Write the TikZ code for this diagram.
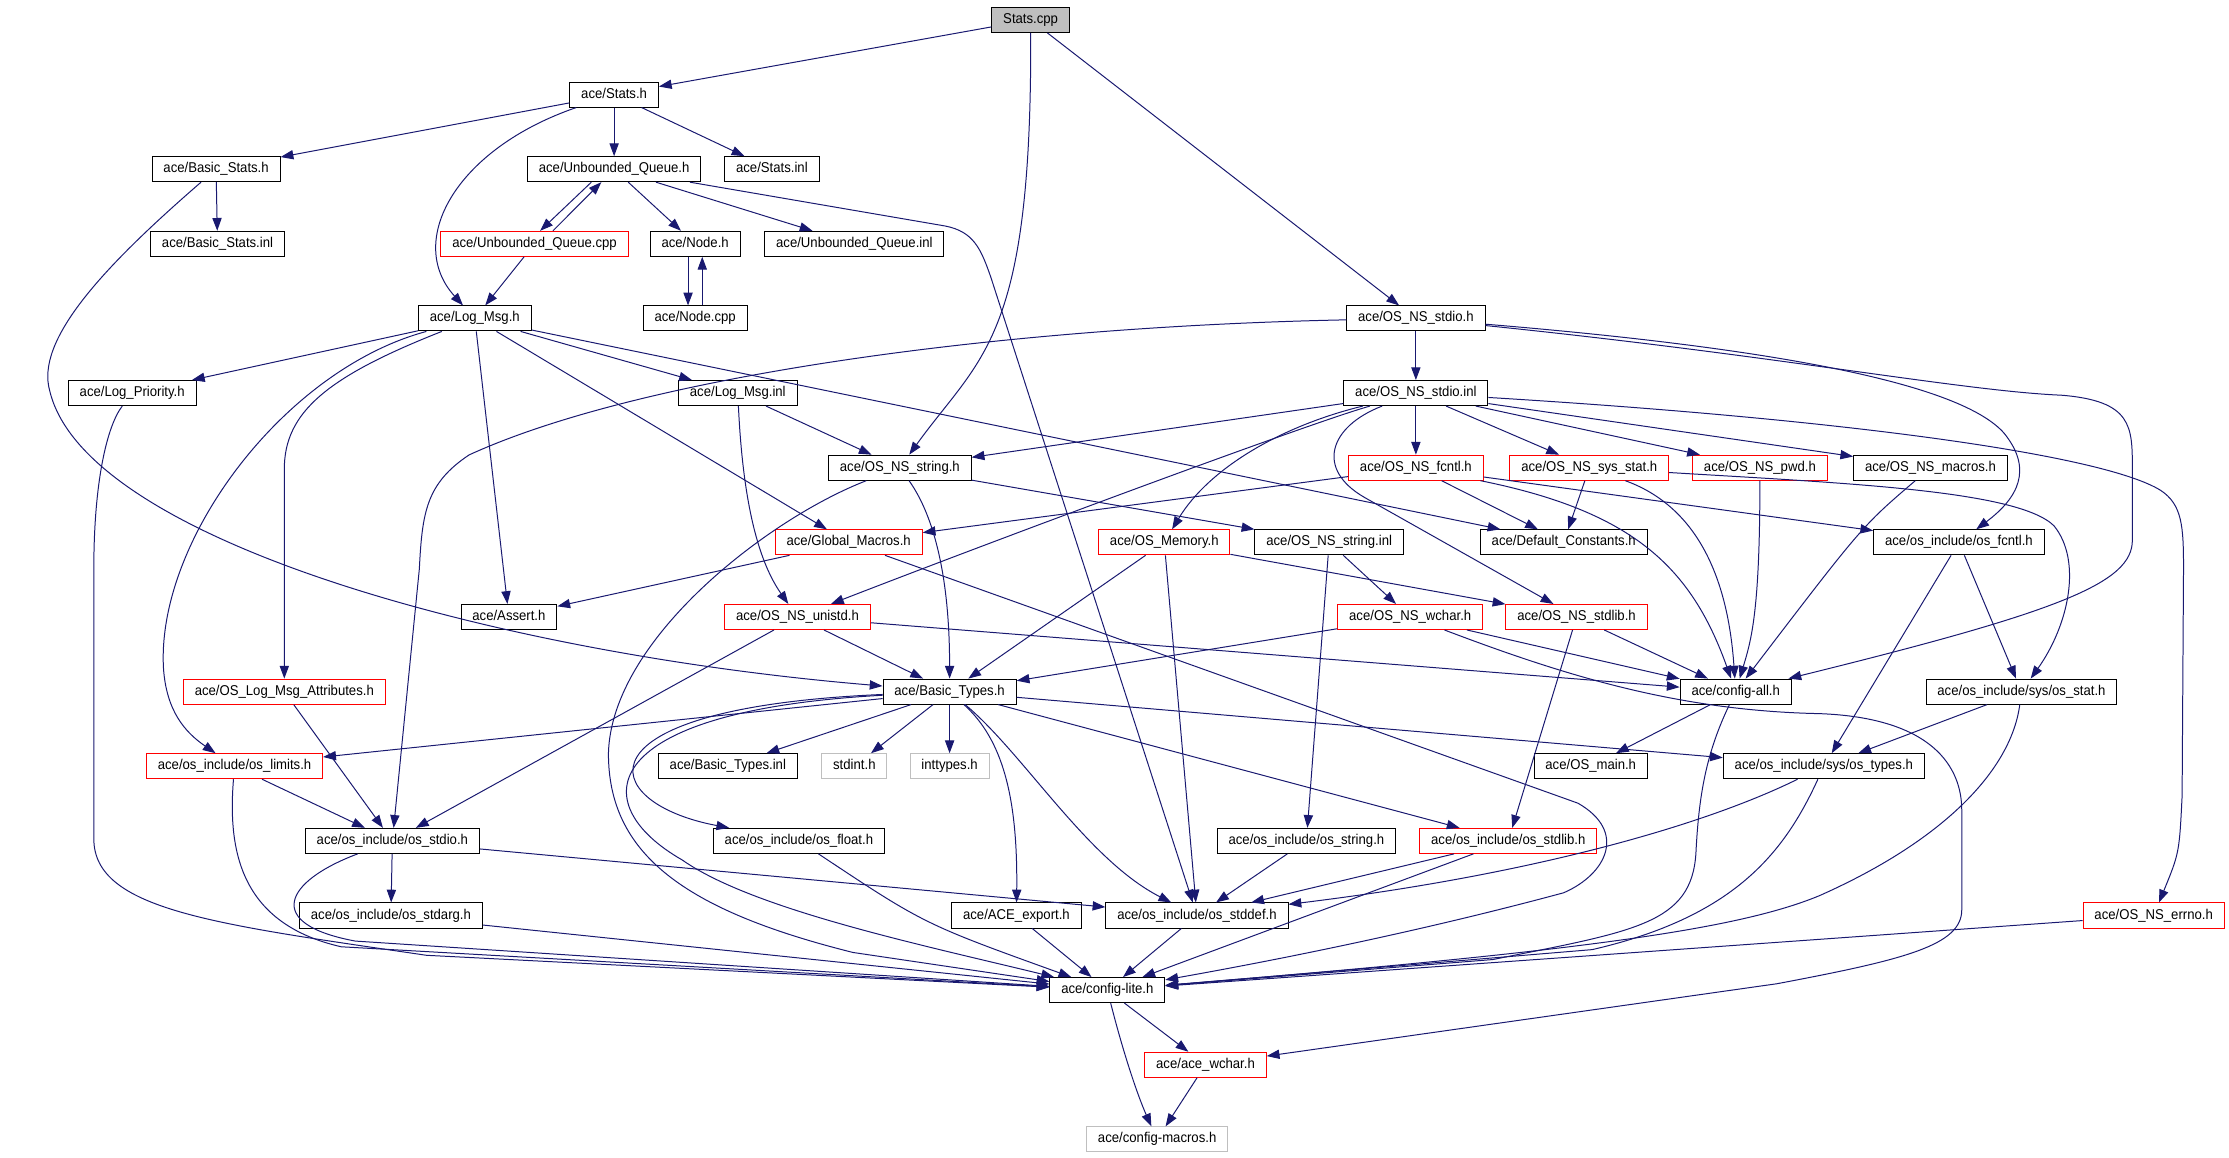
\documentclass[tikz,border=0pt]{standalone}
\usepackage{fontspec}
\setmainfont[FakeStretch=0.925]{Liberation Sans}
\usetikzlibrary{arrows.meta}
\definecolor{edgeblue}{HTML}{191970}
\definecolor{nodegrey}{HTML}{BFBFBF}
\tikzset{
    hdr/.style={draw=black, fill=white, line width=0.7pt, inner xsep=8pt, inner ysep=0pt,
        minimum height=17.6pt, text height=7.2pt, text depth=2.2pt, font=\fontsize{10}{12}\selectfont},
    hdrred/.style={hdr, draw=red},
    hdrgrey/.style={hdr, draw=nodegrey},
    hdrroot/.style={hdr, fill=nodegrey},
    incl/.style={draw=edgeblue, line width=0.7pt, -{Triangle[length=9pt,width=6.5pt]}},
}
\begin{document}
\begin{tikzpicture}[x=1pt,y=-1pt]
    \useasboundingbox (0,0) rectangle (1568,814);

    \node[hdrroot] (statscpp) at (725,14) {Stats.cpp};
    \node[hdr] (statsh) at (432,66.5) {ace/Stats.h};
    \node[hdr] (basicstatsh) at (152,119) {ace/Basic\_Stats.h};
    \node[hdr] (uqh) at (432,119) {ace/Unbounded\_Queue.h};
    \node[hdr] (statsinl) at (543,119) {ace/Stats.inl};
    \node[hdr] (basicstatsinl) at (153,171.5) {ace/Basic\_Stats.inl};
    \node[hdrred] (uqcpp) at (376,171.5) {ace/Unbounded\_Queue.cpp};
    \node[hdr] (nodeh) at (489,171.5) {ace/Node.h};
    \node[hdr] (uqinl) at (601,171.5) {ace/Unbounded\_Queue.inl};
    \node[hdr] (logmsgh) at (334,224) {ace/Log\_Msg.h};
    \node[hdr] (nodecpp) at (489,224) {ace/Node.cpp};
    \node[hdr] (osnsstdioh) at (996,224) {ace/OS\_NS\_stdio.h};
    \node[hdr] (logpriorityh) at (93,276.5) {ace/Log\_Priority.h};
    \node[hdr] (logmsginl) at (519,276.5) {ace/Log\_Msg.inl};
    \node[hdr] (osnsstdioinl) at (996,276.5) {ace/OS\_NS\_stdio.inl};
    \node[hdr] (osnsstringh) at (633,329) {ace/OS\_NS\_string.h};
    \node[hdrred] (osnsfcntlh) at (996,329) {ace/OS\_NS\_fcntl.h};
    \node[hdrred] (osnssysstath) at (1118,329) {ace/OS\_NS\_sys\_stat.h};
    \node[hdrred] (osnspwdh) at (1238,329) {ace/OS\_NS\_pwd.h};
    \node[hdr] (osnsmacrosh) at (1358,329) {ace/OS\_NS\_macros.h};
    \node[hdrred] (globalmacrosh) at (597,381.5) {ace/Global\_Macros.h};
    \node[hdrred] (osmemoryh) at (819,381.5) {ace/OS\_Memory.h};
    \node[hdr] (osnsstringinl) at (935,381.5) {ace/OS\_NS\_string.inl};
    \node[hdr] (defaultconstantsh) at (1100,381.5) {ace/Default\_Constants.h};
    \node[hdr] (osfcntlh) at (1378,381.5) {ace/os\_include/os\_fcntl.h};
    \node[hdr] (asserth) at (358,434) {ace/Assert.h};
    \node[hdrred] (osnsunistdh) at (561,434) {ace/OS\_NS\_unistd.h};
    \node[hdrred] (osnswcharh) at (992,434) {ace/OS\_NS\_wchar.h};
    \node[hdrred] (osnsstdlibh) at (1109,434) {ace/OS\_NS\_stdlib.h};
    \node[hdrred] (oslogmsgattrh) at (200,486.5) {ace/OS\_Log\_Msg\_Attributes.h};
    \node[hdr] (basictypesh) at (668,486.5) {ace/Basic\_Types.h};
    \node[hdr] (configallh) at (1221,486.5) {ace/config-all.h};
    \node[hdr] (osstath) at (1422,486.5) {ace/os\_include/sys/os\_stat.h};
    \node[hdrred] (oslimitsh) at (165,539) {ace/os\_include/os\_limits.h};
    \node[hdr] (basictypesinl) at (512,539) {ace/Basic\_Types.inl};
    \node[hdrgrey] (stdinth) at (601,539) {stdint.h};
    \node[hdrgrey] (inttypesh) at (668,539) {inttypes.h};
    \node[hdr] (osmainh) at (1119,539) {ace/OS\_main.h};
    \node[hdr] (ostypesh) at (1283,539) {ace/os\_include/sys/os\_types.h};
    \node[hdr] (osstdioh) at (276,591.5) {ace/os\_include/os\_stdio.h};
    \node[hdr] (osfloath) at (562,591.5) {ace/os\_include/os\_float.h};
    \node[hdr] (osstringh) at (919,591.5) {ace/os\_include/os\_string.h};
    \node[hdrred] (osstdlibh) at (1061,591.5) {ace/os\_include/os\_stdlib.h};
    \node[hdr] (osstdargh) at (275,644) {ace/os\_include/os\_stdarg.h};
    \node[hdr] (aceexporth) at (715,644) {ace/ACE\_export.h};
    \node[hdr] (osstddefh) at (842,644) {ace/os\_include/os\_stddef.h};
    \node[hdrred] (osnserrnoh) at (1515,644) {ace/OS\_NS\_errno.h};
    \node[hdr] (configliteh) at (779,696.5) {ace/config-lite.h};
    \node[hdrred] (acewcharh) at (848,749) {ace/ace\_wchar.h};
    \node[hdrgrey] (configmacrosh) at (814,801.5) {ace/config-macros.h};

    \draw[incl] (statscpp) -- (statsh);
    \draw[incl] (statscpp) .. controls (726,240) and (690,250) .. (osnsstringh);
    \draw[incl] (statscpp) -- (osnsstdioh);

    \draw[incl] (statsh) -- (basicstatsh);
    \draw[incl] (statsh) -- (uqh);
    \draw[incl] (statsh) -- (statsinl);
    \draw[incl] (statsh) .. controls (320,105) and (285,170) .. (logmsgh);

    \draw[incl] (basicstatsh) -- (basicstatsinl);
    \draw[incl] (basicstatsh) .. controls (70,190) and (25,240) .. (35,275) .. controls (60,380) and (350,460) .. (basictypesh);

    \draw[incl] ([xshift=-16pt]uqh.south) -- ([xshift=4pt]uqcpp.north);
    \draw[incl] ([xshift=13pt]uqcpp.north) -- ([xshift=-9pt]uqh.south);
    \draw[incl] (uqh) -- (nodeh);
    \draw[incl] (uqh) -- (uqinl);
    \draw[incl] (uqh) -- (665,159) .. controls (685,163) and (690,175) .. (697,195) -- (osstddefh);
    \draw[incl] (uqcpp) -- (logmsgh);
    \draw[incl] ([xshift=-5pt]nodeh.south) -- ([xshift=-5pt]nodecpp.north);
    \draw[incl] ([xshift=5pt]nodecpp.north) -- ([xshift=5pt]nodeh.south);

    \draw[incl] (logmsgh) -- (logpriorityh);
    \draw[incl] (logmsgh) .. controls (200,260) and (110,380) .. (115,470) .. controls (117,500) and (130,515) .. (oslimitsh);
    \draw[incl] (logmsgh) .. controls (230,265) and (200,290) .. (200,330) -- (oslogmsgattrh);
    \draw[incl] (logmsgh) -- (asserth);
    \draw[incl] (logmsgh) -- (globalmacrosh);
    \draw[incl] (logmsgh) -- (logmsginl);
    \draw[incl] (logmsgh) -- (defaultconstantsh);
    \draw[incl] (logpriorityh) .. controls (75,300) and (66,340) .. (66,400) -- (66,590) .. controls (66,640) and (150,650) .. (300,672) -- (configliteh);
    \draw[incl] (logmsginl) -- (osnsstringh);
    \draw[incl] (logmsginl) .. controls (522,340) and (530,390) .. (osnsunistdh);

    \draw[incl] (osnsstdioh) -- (osnsstdioinl);
    \draw[incl] (osnsstdioh) .. controls (700,230) and (450,265) .. (330,320) .. controls (300,340) and (297,360) .. (295,400) -- (osstdioh);
    \draw[incl] (osnsstdioh) .. controls (1250,250) and (1380,275) .. (1450,278) .. controls (1500,282) and (1500,300) .. (1500,330) -- (1500,380) .. controls (1500,410) and (1450,430) .. (configallh);
    \draw[incl] (osnsstdioh) .. controls (1250,245) and (1380,270) .. (1410,305) .. controls (1430,330) and (1420,350) .. (osfcntlh);

    \draw[incl] (osnsstdioinl) -- (osnsstringh);
    \draw[incl] (osnsstdioinl) .. controls (920,298) and (700,380) .. (osnsunistdh);
    \draw[incl] (osnsstdioinl) .. controls (900,300) and (850,330) .. (osmemoryh);
    \draw[incl] (osnsstdioinl) -- (osnsfcntlh);
    \draw[incl] (osnsstdioinl) .. controls (935,300) and (925,330) .. (960,350) -- (osnsstdlibh);
    \draw[incl] (osnsstdioinl) -- (osnssysstath);
    \draw[incl] (osnsstdioinl) -- (osnspwdh);
    \draw[incl] (osnsstdioinl) -- (osnsmacrosh);
    \draw[incl] (osnsstdioinl) .. controls (1300,295) and (1480,320) .. (1520,345) .. controls (1535,355) and (1536,370) .. (1536,400) -- (1535,560) .. controls (1533,600) .. (osnserrnoh);

    \draw[incl] (osnsstringh) .. controls (655,360) and (668,400) .. (basictypesh);
    \draw[incl] (osnsstringh) .. controls (540,365) and (430,450) .. (428,530) .. controls (428,600) and (480,640) .. (600,670) -- (configliteh);
    \draw[incl] (osnsstringh) -- (osnsstringinl);

    \draw[incl] (osnsfcntlh) -- (globalmacrosh);
    \draw[incl] (osnsfcntlh) -- (defaultconstantsh);
    \draw[incl] (osnsfcntlh) -- (osfcntlh);
    \draw[incl] (osnsfcntlh) .. controls (1150,360) and (1190,400) .. (configallh);
    \draw[incl] (osnssysstath) -- (defaultconstantsh);
    \draw[incl] (osnssysstath) .. controls (1190,355) and (1215,400) .. (configallh);
    \draw[incl] (osnssysstath) .. controls (1300,340) and (1420,345) .. (1445,370) .. controls (1465,395) and (1455,440) .. (osstath);
    \draw[incl] (osnspwdh) .. controls (1238,430) and (1232,450) .. (configallh);
    \draw[incl] (osnsmacrosh) .. controls (1310,370) .. (configallh);

    \draw[incl] (globalmacrosh) -- (asserth);
    \draw[incl] (globalmacrosh) -- (1110,565) .. controls (1145,585) and (1130,615) .. (1100,628) .. controls (1000,655) and (900,675) .. (configliteh);
    \draw[incl] (osmemoryh) -- (basictypesh);
    \draw[incl] (osmemoryh) -- (osstddefh);
    \draw[incl] (osmemoryh) -- (osnsstdlibh);
    \draw[incl] (osnsstringinl) -- (osnswcharh);
    \draw[incl] (osnsstringinl) -- (osstringh);
    \draw[incl] (osfcntlh) -- (osstath);
    \draw[incl] (osfcntlh) -- (ostypesh);

    \draw[incl] (osnsunistdh) -- (basictypesh);
    \draw[incl] (osnsunistdh) -- (configallh);
    \draw[incl] (osnsunistdh) -- (osstdioh);
    \draw[incl] (osnswcharh) -- (basictypesh);
    \draw[incl] (osnswcharh) -- (configallh);
    \draw[incl] (osnswcharh) .. controls (1100,475) and (1180,500) .. (1280,502) .. controls (1360,505) and (1380,540) .. (1380,570) -- (1380,640) .. controls (1380,665) and (1340,675) .. (1250,692) -- (acewcharh);
    \draw[incl] (osnsstdlibh) -- (configallh);
    \draw[incl] (osnsstdlibh) -- (osstdlibh);
    \draw[incl] (oslogmsgattrh) -- (osstdioh);

    \draw[incl] (basictypesh) -- (oslimitsh);
    \draw[incl] (basictypesh) -- (basictypesinl);
    \draw[incl] (basictypesh) -- (stdinth);
    \draw[incl] (basictypesh) -- (inttypesh);
    \draw[incl] (basictypesh) .. controls (400,498) and (420,565) .. (osfloath);
    \draw[incl] (basictypesh) .. controls (705,520) and (716,560) .. (aceexporth);
    \draw[incl] (basictypesh) .. controls (720,530) and (765,605) .. (osstddefh);
    \draw[incl] (basictypesh) -- (osstdlibh);
    \draw[incl] (basictypesh) -- (ostypesh);
    \draw[incl] (basictypesh) .. controls (420,500) and (410,565) .. (480,605) .. controls (530,640) and (650,665) .. (configliteh);

    \draw[incl] (configallh) -- (osmainh);
    \draw[incl] (configallh) .. controls (1200,530) and (1195,560) .. (1193,600) .. controls (1190,650) and (1150,655) .. (1050,675) -- (configliteh);
    \draw[incl] (osstath) -- (ostypesh);
    \draw[incl] (osstath) .. controls (1415,540) and (1370,590) .. (1280,630) .. controls (1220,655) and (1100,670) .. (configliteh);
    \draw[incl] (ostypesh) .. controls (1200,580) and (1080,615) .. (osstddefh);
    \draw[incl] (ostypesh) .. controls (1255,600) and (1220,645) .. (1120,668) -- (configliteh);

    \draw[incl] (osstdioh) -- (osstdargh);
    \draw[incl] (osstdioh) -- (osstddefh);
    \draw[incl] (osstdioh) .. controls (200,620) and (185,650) .. (250,662) -- (configliteh);
    \draw[incl] (oslimitsh) -- (osstdioh);
    \draw[incl] (oslimitsh) .. controls (160,600) and (170,650) .. (240,666) -- (configliteh);
    \draw[incl] (osstdargh) -- (configliteh);
    \draw[incl] (osfloath) .. controls (650,650) .. (configliteh);
    \draw[incl] (aceexporth) -- (configliteh);
    \draw[incl] (osstddefh) -- (configliteh);
    \draw[incl] (osstringh) -- (osstddefh);
    \draw[incl] (osstdlibh) -- (osstddefh);
    \draw[incl] (osstdlibh) -- (configliteh);
    \draw[incl] (osnserrnoh) -- (configliteh);

    \draw[incl] (configliteh) -- (acewcharh);
    \draw[incl] (configliteh) .. controls (790,740) and (800,770) .. (configmacrosh);
    \draw[incl] (acewcharh) -- (configmacrosh);
\end{tikzpicture}
\end{document}
